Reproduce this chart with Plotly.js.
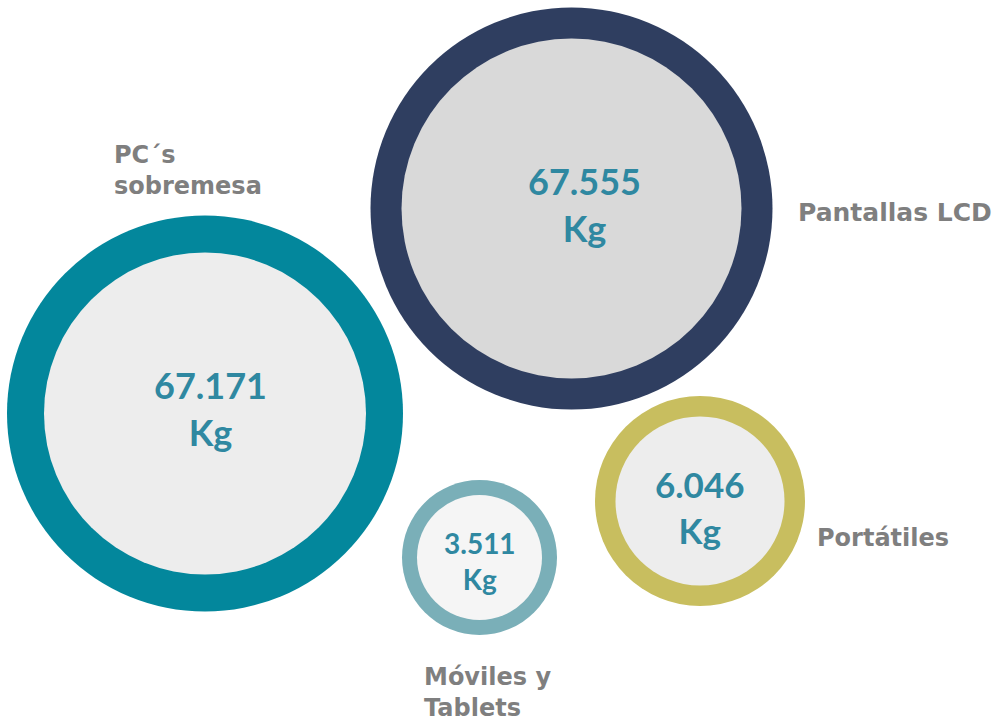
<!DOCTYPE html>
<html>
<head>
<meta charset="utf-8">
<script src="https://cdn.plot.ly/plotly-3.0.1.min.js"></script>
<style>html,body{margin:0;padding:0;background:#fff;}#chart{width:997px;height:725px;}</style>
</head>
<body>
<div id="chart"></div>
<script>
// ---- data ----
var categories = ["Pantallas LCD", "PC\u00b4s sobremesa", "Port\u00e1tiles", "M\u00f3viles y Tablets"];
var labelTexts = ["Pantallas LCD", "PC\u00b4s<br>sobremesa", "Port\u00e1tiles", "M\u00f3viles y<br>Tablets"];
var valuesKg = [67555, 67171, 6046, 3511];
var unit = "Kg";

// ---- layout / style (not data) ----
var centers = [[571.5, 208.5], [205, 413.5], [700, 501], [479.5, 557.5]];
var outerR = [201, 198, 105, 77.5];
var innerR = [170, 161, 84.5, 62.5];
var ringColors = ["#2f3e60", "#03879c", "#c8be5f", "#7aafb8"];
var fillColors = ["#d9d9d9", "#ededed", "#ededed", "#f5f5f5"];
var valueFontSize = [36, 36, 35, 28];
var valueXShift = [13, 5, 0, 0];
var valueYShift = [4, 5, -6, -3];
var labelPos = [[796, 212], [112, 170], [815, 538], [422, 692]];
var labelFontSize = [25, 24, 24, 24];

function fmt(v) {
  return v.toString().replace(/\B(?=(\d{3})+(?!\d))/g, ".");
}

var xs = centers.map(function(c){return c[0];});
var ys = centers.map(function(c){return c[1];});

var outerTrace = {
  type: "scatter", mode: "markers", x: xs, y: ys, hoverinfo: "skip",
  marker: {size: outerR.map(function(r){return 2*r;}), sizemode: "diameter", color: ringColors, line: {width: 0}, opacity: 1}
};
var innerTrace = {
  type: "scatter", mode: "markers", x: xs, y: ys, hoverinfo: "skip",
  marker: {size: innerR.map(function(r){return 2*r;}), sizemode: "diameter", color: fillColors, line: {width: 0}, opacity: 1}
};

var annotations = [];
for (var i = 0; i < categories.length; i++) {
  annotations.push({
    x: xs[i], y: ys[i], xref: "x", yref: "y", xshift: valueXShift[i], yshift: valueYShift[i],
    text: "<b>" + fmt(valuesKg[i]) + "<br>" + unit + "</b>",
    showarrow: false, xanchor: "center", yanchor: "middle", align: "center",
    font: {family: "Lato, 'Open Sans', sans-serif", size: valueFontSize[i], color: "#2f88a1"}
  });
  annotations.push({
    x: labelPos[i][0], y: labelPos[i][1], xref: "x", yref: "y",
    text: "<b>" + labelTexts[i] + "</b>",
    showarrow: false, xanchor: "left", yanchor: "middle", align: "left",
    font: {family: "'DejaVu Sans', Verdana, sans-serif", size: labelFontSize[i], color: "#7f7f7f"}
  });
}

var layout = {
  width: 997, height: 725,
  margin: {l: 0, r: 0, t: 0, b: 0, pad: 0},
  paper_bgcolor: "#ffffff", plot_bgcolor: "#ffffff",
  showlegend: false,
  xaxis: {range: [0, 997], visible: false, fixedrange: true},
  yaxis: {range: [725, 0], visible: false, fixedrange: true},
  annotations: annotations
};

Plotly.newPlot("chart", [outerTrace, innerTrace], layout, {staticPlot: true, displayModeBar: false});
</script>
</body>
</html>
